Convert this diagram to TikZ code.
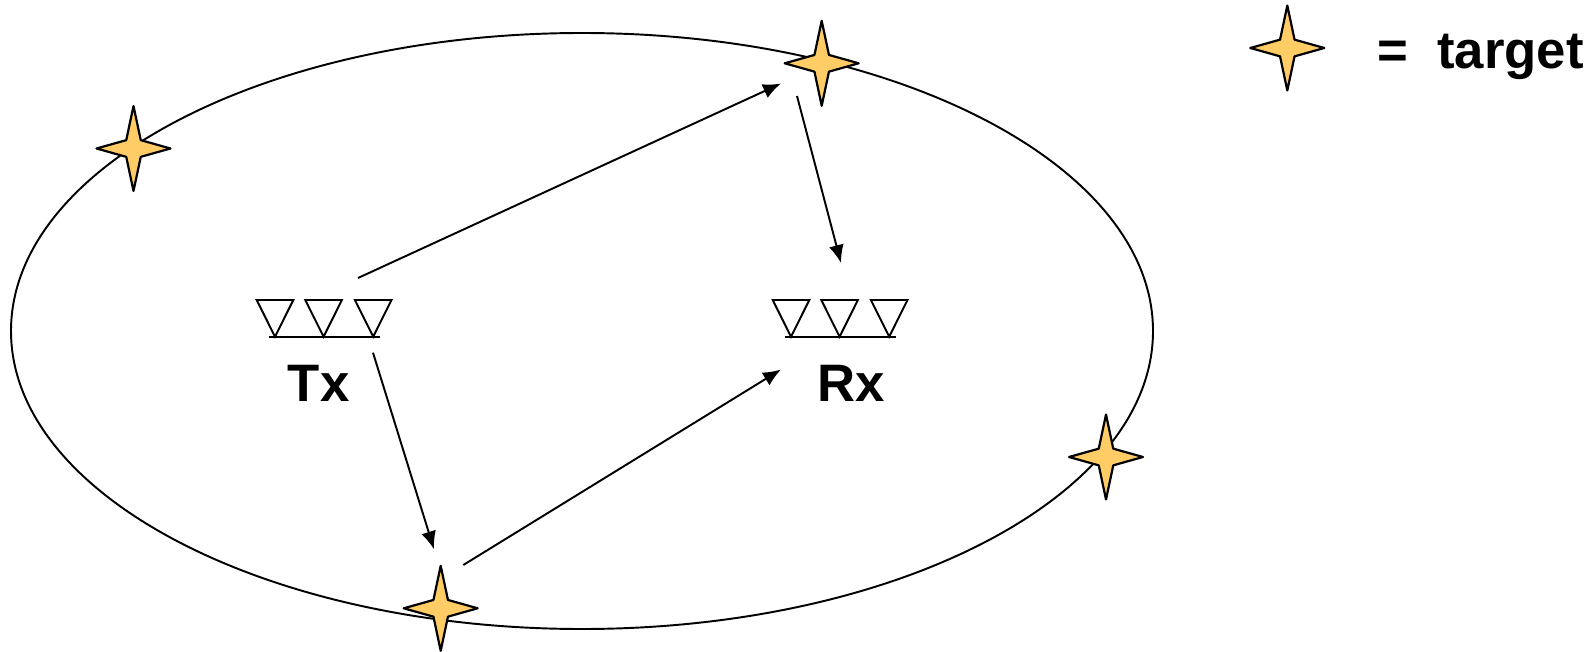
\documentclass[tikz,border=0pt]{standalone}
\usepackage{fontspec}
\setmainfont{Liberation Sans}
\usetikzlibrary{shapes.geometric,arrows.meta}
\begin{document}
\begin{tikzpicture}[
   x=0.02cm,y=-0.02cm,
   target/.style={star,star points=4,star point ratio=3.6,minimum size=1.7cm,inner sep=0pt,
     xscale=0.87,transform shape,draw=black,fill=starfill,line width=1.25pt,line join=round},
   ray/.style={-{Latex[length=0.36cm,width=0.3cm]},line width=1.1pt},
   ant/.style={line width=1.1pt},
   label/.style={font=\fontsize{30}{36}\selectfont\bfseries}
 ]
  \definecolor{starfill}{RGB}{255,204,102}
  \useasboundingbox (0,0) rectangle (1596,652);

  \draw[line width=1.1pt] (582,331) ellipse [x radius=571,y radius=298];

  % antenna arrays
  \foreach \x/\i in {0/tx,516/rx} {
    \foreach \dx in {0,48.6,98.2} {
      \draw[ant] (256.7+\x+\dx,300) -- (293.3+\x+\dx,300) -- (275+\x+\dx,336.7) -- cycle;
    }
    \coordinate (\i l) at (268.7+\x,336.7);
    \coordinate (\i r) at (379.7+\x,336.7);
    \draw[ant] (\i l) -- (\i r);
  }
  \node[label] (txlabel) at (318.6,383) {Tx};
  \node[label] (rxlabel) at (851,383) {Rx};

  \node[target] (t1) at (133.5,148.5) {};
  \node[target] (t2) at (821.7,63.3) {};
  \node[target] (t3) at (1106,457) {};
  \node[target] (t4) at (440.7,608.3) {};
  \node[target] (legend) at (1287.3,48) {};
  \node[label,anchor=base west] (legendlabel) at (1371,69) {=\ \ target};

  \coordinate (a1) at (358,278);
  \coordinate (b1) at (781,83.5);
  \coordinate (a2) at (797,96);
  \coordinate (b2) at (841,263);
  \coordinate (a3) at (373,352.7);
  \coordinate (b3) at (434,549.3);
  \coordinate (a4) at (463.3,565);
  \coordinate (b4) at (781,369.5);
  \foreach \i in {1,2,3,4} {
    \draw[ray] (a\i) -- (b\i);
  }
\end{tikzpicture}
\end{document}
